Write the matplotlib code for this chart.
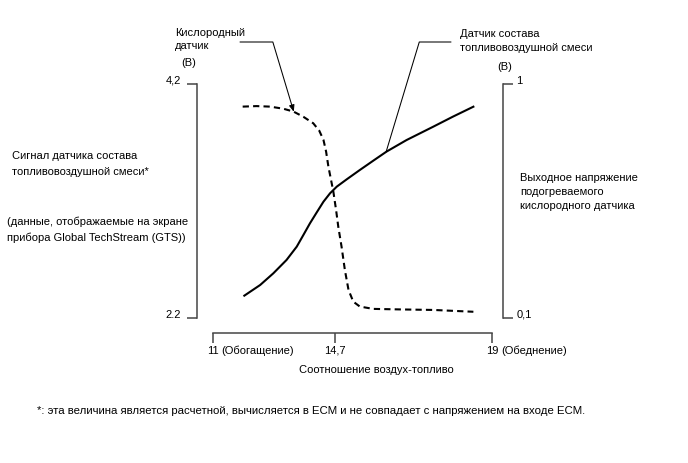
import numpy as np
import matplotlib
matplotlib.use("Agg")
import matplotlib.pyplot as plt
from matplotlib.transforms import ScaledTranslation

plt.rcParams['font.family'] = ['Liberation Sans', 'DejaVu Sans']
plt.rcParams['font.size'] = 8

# air-fuel ratio sensor signal (left axis, V)
af_x = [11.95, 12.43, 12.83, 13.23, 13.54, 13.74, 13.94, 14.14, 14.35, 14.55,
        14.75, 15.02, 15.38, 15.75, 16.11, 16.66, 17.39, 17.93, 18.49]
af_v = [2.391, 2.482, 2.582, 2.696, 2.810, 2.909, 3.009, 3.100, 3.194, 3.266,
        3.323, 3.385, 3.465, 3.545, 3.622, 3.721, 3.835, 3.921, 4.006]

# heated oxygen sensor output (right axis, V)
o2_x = [11.90, 12.32, 12.73, 13.13, 13.44, 13.74, 14.04, 14.22, 14.35, 14.43,
        14.50, 14.58, 14.65, 14.73, 14.79, 14.88, 14.97, 15.07, 15.20, 15.38,
        15.75, 16.48, 17.39, 18.49]
o2_v = [0.913, 0.915, 0.913, 0.905, 0.894, 0.874, 0.849, 0.821, 0.785, 0.740,
        0.682, 0.631, 0.586, 0.515, 0.451, 0.374, 0.285, 0.208, 0.163, 0.144,
        0.135, 0.133, 0.131, 0.124]

x_ticks = [11, 14.7, 19]
x_tick_labels = ['11', '14,7', '19']
left_ticks = [2.2, 4.2]
left_labels = ['2.2', '4,2']
right_ticks = [0.1, 1]
right_labels = ['0,1', '1']

W, H = 688, 463
GREY = '#454545'

# the x axis of the diagram is not quite linear: piecewise mapping to pixels
_xa = [5, 11, 14.7, 19, 25]
_pa = [213 - 6 * 122 / 3.7, 213, 335, 492, 492 + 6 * 157 / 4.3]


def forward(x):
    return np.interp(x, _xa, _pa)


def inverse(p):
    return np.interp(p, _pa, _xa)


def px(x, y):
    return x / W, 1 - y / H


fig = plt.figure(figsize=(W / 100, H / 100), dpi=100)
ax = fig.add_axes([197 / W, 1 - 318 / H, 306 / W, 234 / H])
ax.set_xscale('function', functions=(forward, inverse))
ax.set_xlim(float(inverse(197)), float(inverse(503)))
ax.set_ylim(2.2, 4.2)
ax2 = ax.twinx()
ax2.set_ylim(0.1, 1)

ax.plot(af_x, af_v, color='black', lw=1.5, clip_on=False)
ax2.plot(o2_x, o2_v, color='black', lw=1.5, ls=(0, (3, 2)), clip_on=False)

for s in ['top', 'right']:
    ax.spines[s].set_visible(False)
for s in ['top', 'left', 'bottom']:
    ax2.spines[s].set_visible(False)
ax.spines['bottom'].set_position(('outward', 15 * 0.72))
ax.spines['bottom'].set_bounds(11, 19)
for sp in [ax.spines['left'], ax.spines['bottom'], ax2.spines['right']]:
    sp.set_color(GREY)
    sp.set_linewidth(1.1)

ax.set_xticks(x_ticks, x_tick_labels)
ax.tick_params(axis='x', direction='out', length=7.2, width=1.1, color=GREY, pad=2)
ax.set_yticks(left_ticks, left_labels)
ax.tick_params(axis='y', direction='out', length=7.2, width=1.1, color=GREY, pad=4.5)
ax2.set_yticks(right_ticks, right_labels)
ax2.tick_params(axis='y', direction='out', length=7.2, width=1.1, color=GREY, pad=2.5)

lift = ScaledTranslation(0, 4.5 / 100, fig.dpi_scale_trans)
for lab in ax.get_yticklabels():
    lab.set_transform(lab.get_transform() + lift)
for lab in ax2.get_yticklabels():
    lab.set_transform(lab.get_transform() + lift)

# axis captions
fig.text(*px(189, 63), '(В)', ha='center', va='center')
fig.text(*px(505, 67), '(В)', ha='center', va='center')
fig.text(*px(221, 351), '(Обогащение)', ha='left', va='center')
fig.text(*px(501, 351), '(Обеднение)', ha='left', va='center')
fig.text(*px(376, 370), 'Соотношение воздух-топливо', ha='center', va='center')

fig.text(*px(12, 164), 'Сигнал датчика состава\nтопливовоздушной смеси*',
         ha='left', va='center', linespacing=1.65)
fig.text(*px(7, 230), '(данные, отображаемые на экране\nприбора Global TechStream (GTS))',
         ha='left', va='center', linespacing=1.65)
fig.text(*px(520, 192), 'Выходное напряжение\nподогреваемого\nкислородного датчика',
         ha='left', va='center', linespacing=1.5)

# curve labels with leader lines
fig.text(*px(175, 39.5), 'Кислородный\nдатчик', ha='left', va='center', linespacing=1.45)
fig.text(*px(460, 41), 'Датчик состава\nтопливовоздушной смеси', ha='left', va='center',
         linespacing=1.45)

ax2.annotate('', xy=(13.45, 0.893), xycoords='data',
             xytext=(240, H - 42), textcoords='figure pixels',
             arrowprops=dict(arrowstyle='-|>,head_length=0.5,head_width=0.2',
                             connectionstyle='angle,angleA=0,angleB=106.7,rad=0',
                             shrinkA=0, shrinkB=0, lw=0.75, color='black',
                             mutation_scale=8))
ax.annotate('', xy=(16.1, 3.62), xycoords='data',
            xytext=(451, H - 42), textcoords='figure pixels',
            arrowprops=dict(arrowstyle='-',
                            connectionstyle='angle,angleA=0,angleB=73.2,rad=0',
                            shrinkA=0, shrinkB=0, lw=0.75, color='black'))

fig.text(*px(37, 411), '*: эта величина является расчетной, вычисляется в ECM и не совпадает '
         'с напряжением на входе ECM.', ha='left', va='center', fontsize=8.2)

fig.savefig('out.png', dpi=100)
